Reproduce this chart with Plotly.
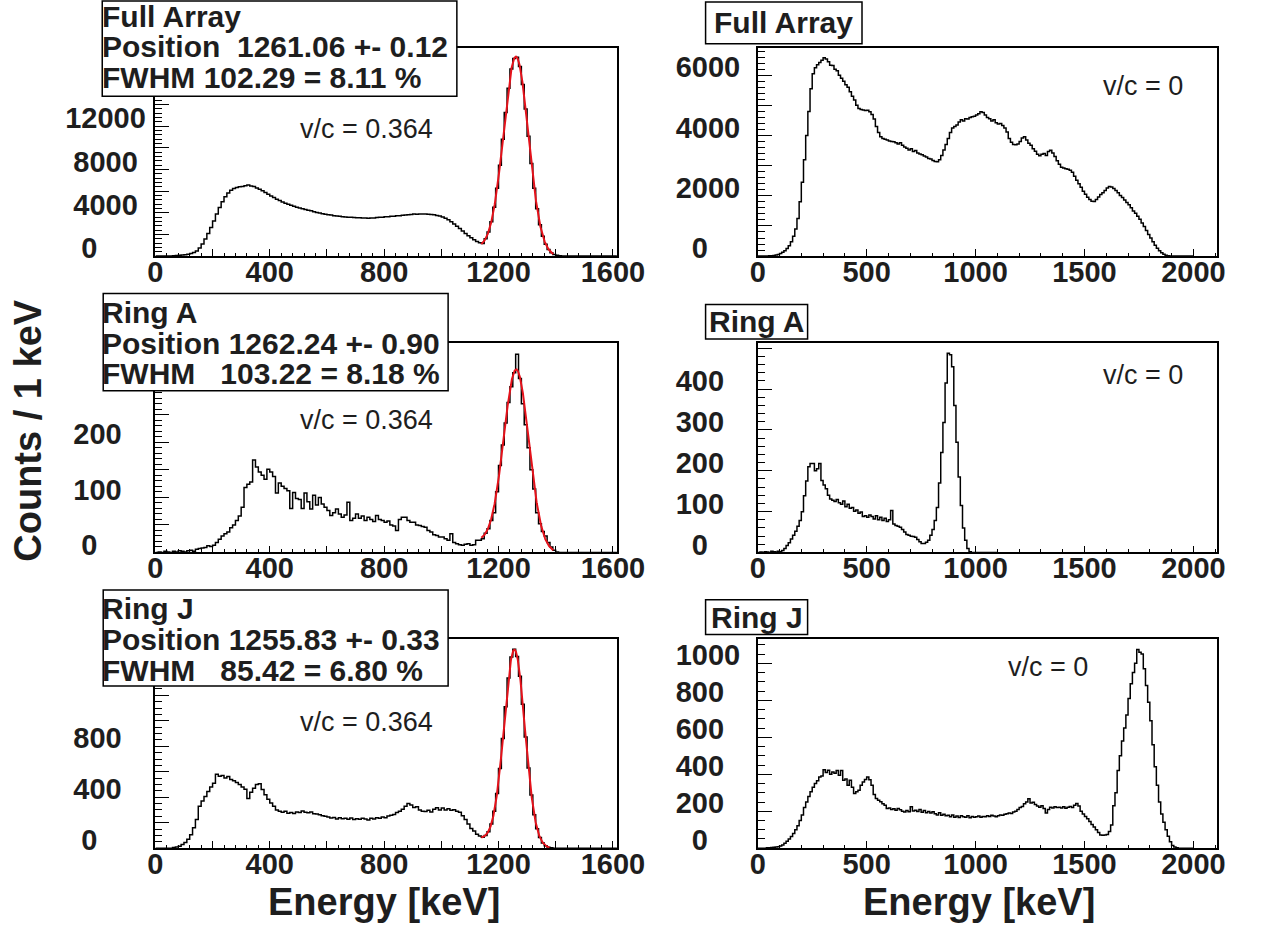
import numpy as np
import plotly.graph_objects as go

BIN_KEV = 10  # histogram bin width in keV, bins start at 0 keV

# ---------------- spectra (counts per 10 keV bin) ----------------
# Doppler corrected with v/c = 0.364
full_dc = [
    0, 0, 0, 0, 10, 20, 40, 60, 80, 100,
    130, 170, 230, 330, 480, 740, 1130, 1580, 2100, 2650,
    3250, 3880, 4480, 5020, 5480, 5830, 6080, 6250, 6340, 6410,
    6440, 6490, 6580, 6470, 6420, 6290, 6180, 6040, 5880, 5710,
    5560, 5410, 5260, 5130, 4990, 4880, 4790, 4700, 4610, 4520,
    4440, 4370, 4300, 4240, 4180, 4100, 4040, 3980, 3920, 3870,
    3830, 3790, 3740, 3700, 3680, 3640, 3620, 3600, 3580, 3560,
    3550, 3540, 3520, 3510, 3500, 3530, 3520, 3560, 3580, 3600,
    3630, 3640, 3680, 3690, 3720, 3740, 3770, 3800, 3830, 3850,
    3890, 3870, 3880, 3900, 3880, 3870, 3850, 3810, 3760, 3700,
    3610, 3500, 3350, 3170, 2970, 2760, 2540, 2320, 2100, 1890,
    1690, 1510, 1350, 1230, 1170, 1600, 2230, 3170, 4510, 6260,
    8400, 10800, 13260, 15520, 17280, 18250, 18380, 17530, 15850, 13600,
    11080, 8560, 6270, 4380, 2900, 1830, 1090, 610, 310, 150,
    70, 30, 10, 0, 0, 0, 0, 0, 0, 0,
    0, 0, 0, 0, 0, 0, 0, 0, 0, 0,
    0, 0,
]

ringA_dc = [
    0, 1, 0, 2, 1, 0, 2, 1, 3, 2,
    1, 3, 4, 2, 6, 7, 8, 9, 12, 11,
    13, 18, 24, 30, 34, 37, 45, 50, 58, 66,
    82, 118, 124, 128, 168, 155, 146, 140, 133, 151,
    146, 138, 108, 126, 120, 116, 112, 80, 109, 98,
    96, 80, 108, 92, 79, 104, 86, 100, 88, 82,
    76, 67, 72, 79, 70, 64, 68, 91, 58, 62,
    70, 62, 66, 58, 64, 60, 56, 67, 60, 58,
    55, 57, 50, 48, 40, 60, 64, 64, 58, 55,
    55, 50, 49, 47, 46, 40, 37, 32, 31, 28,
    28, 25, 22, 34, 18, 16, 14, 13, 15, 16,
    13, 14, 22, 22, 25, 35, 43, 58, 72, 110,
    158, 195, 235, 272, 301, 326, 360, 316, 270, 232,
    190, 150, 115, 72, 52, 38, 30, 18, 10, 4,
    1, 0, 0, 0, 0, 0, 0, 0, 0, 0,
    0, 0, 0, 0, 0, 0, 0, 0, 0, 0,
    0, 0,
]

ringJ_dc = [
    0, 0, 0, 0, 0, 0, 5, 10, 15, 30,
    45, 70, 105, 160, 225, 330, 370, 405, 445, 480,
    510, 580, 565, 570, 550, 562, 540, 530, 515, 500,
    480, 462, 390, 440, 470, 500, 505, 460, 420, 385,
    355, 330, 300, 290, 282, 290, 275, 280, 272, 285,
    280, 292, 282, 278, 285, 270, 268, 262, 255, 250,
    245, 238, 242, 230, 240, 232, 236, 228, 238, 226,
    232, 228, 235, 230, 222, 236, 230, 240, 235, 245,
    240, 252, 258, 265, 280, 290, 305, 330, 350, 340,
    320, 325, 300, 290, 288, 298, 285, 305, 318, 300,
    315, 300, 310, 298, 302, 290, 282, 255, 225, 190,
    155, 135, 110, 95, 86, 100, 130, 190, 290, 430,
    625, 860, 1110, 1335, 1500, 1560, 1505, 1350, 1130, 872,
    630, 418, 262, 152, 84, 42, 19, 7, 3, 0,
    0, 0, 0, 0, 0, 0, 0, 0, 0, 0,
    0, 0, 0, 0, 0, 0, 0, 0, 0, 0,
    0, 0,
]

# No Doppler correction (v/c = 0)
full_raw = [
    0, 0, 0, 0, 5, 10, 15, 20, 35, 55,
    90, 130, 180, 250, 340, 480, 660, 900, 1250, 1800,
    2450, 3200, 4000, 4800, 5550, 6050, 6250, 6350, 6420, 6500,
    6580, 6540, 6450, 6330, 6320, 6200, 6150, 6000, 5900, 5800,
    5680, 5600, 5450, 5300, 5180, 5000, 4900, 4860, 4850, 4830,
    4840, 4790, 4700, 4550, 4300, 4100, 3960, 3900, 3880, 3850,
    3820, 3800, 3790, 3760, 3720, 3760, 3680, 3620, 3580, 3520,
    3560, 3470, 3500, 3420, 3390, 3360, 3320, 3290, 3240, 3220,
    3170, 3140, 3130, 3200, 3340, 3520, 3700, 3900, 4100, 4250,
    4300, 4350, 4450, 4520, 4480, 4560, 4550, 4600, 4620, 4640,
    4680, 4720, 4790, 4760, 4680, 4600, 4560, 4480, 4520, 4420,
    4380, 4400, 4330, 4250, 4120, 3900, 3780, 3700, 3690, 3720,
    3800, 3920, 3960, 3850, 3740, 3680, 3560, 3480, 3380, 3330,
    3380, 3400, 3340, 3470, 3510, 3420, 3300, 3160, 3050, 2950,
    2920, 2900, 2880, 2850, 2780, 2650, 2520, 2400, 2280, 2150,
    2050, 1950, 1880, 1820, 1810, 1880, 1960, 2040, 2100, 2180,
    2260, 2310, 2290, 2240, 2180, 2100, 2010, 1940, 1860, 1780,
    1700, 1600, 1500, 1420, 1320, 1220, 1100, 980, 850, 720,
    600, 480, 360, 260, 180, 110, 65, 30, 10, 0,
    0, 0, 0, 0, 0, 0, 0, 0, 0, 0,
]

ringA_raw = [
    0, 1, 0, 2, 1, 0, 3, 2, 1, 3,
    2, 5, 10, 17, 24, 33, 42, 52, 64, 78,
    100, 139, 175, 210, 218, 218, 200, 205, 218, 176,
    165, 156, 140, 131, 128, 125, 130, 122, 118, 126,
    112, 118, 108, 110, 101, 104, 96, 99, 88, 90,
    86, 92, 88, 82, 90, 80, 86, 78, 84, 76,
    80, 103, 70, 66, 64, 62, 56, 50, 44, 42,
    40, 39, 37, 32, 26, 22, 22, 25, 30, 42,
    56, 78, 110, 170, 245, 318, 415, 488, 484, 455,
    360, 270, 185, 115, 60, 30, 10, 2, 0, 0,
    0, 0, 0, 0, 0, 0, 0, 0, 0, 0,
]

ringJ_raw = [
    0, 0, 0, 0, 2, 3, 4, 5, 7, 8,
    12, 18, 27, 38, 50, 63, 80, 100, 122, 150,
    180, 220, 250, 280, 305, 330, 350, 365, 385, 390,
    425, 410, 422, 400, 412, 405, 420, 395, 421, 367,
    375, 340, 367, 330, 296, 305, 314, 340, 358, 372,
    385, 370, 340, 290, 269, 260, 251, 240, 232, 215,
    218, 210, 214, 205, 215, 208, 200, 196, 204, 197,
    224, 202, 206, 198, 210, 195, 204, 192, 198, 190,
    197, 186, 180, 192, 178, 184, 176, 179, 170, 180,
    168, 174, 166, 176, 170, 168, 175, 165, 172, 168,
    170, 174, 168, 172, 170, 176, 172, 178, 174, 170,
    176, 180, 178, 184, 186, 190, 188, 196, 200, 210,
    220, 226, 240, 250, 268, 245, 248, 236, 228, 222,
    230, 215, 190, 210, 222, 218, 225, 220, 222, 218,
    224, 216, 222, 226, 220, 232, 242, 228, 200, 185,
    172, 160, 145, 128, 115, 100, 85, 72, 70, 72,
    74, 90, 125, 230, 300, 420, 500, 580, 650, 720,
    810, 890, 950, 1000, 1075, 1060, 1050, 970, 880, 790,
    690, 560, 440, 340, 250, 185, 140, 100, 65, 35,
    15, 6, 2, 0, 0, 0, 0, 0, 0, 0,
]

# ---------------- Gaussian + linear background fits ----------------
groups = ["Full Array", "Ring A", "Ring J"]
fit_pos = [1261.06, 1262.24, 1255.83]
fit_pos_err = [0.12, 0.90, 0.33]
fit_fwhm = [102.29, 103.22, 85.42]
fit_amp = [18050, 322, 1520]
fit_bg_lo = [740, 20, 75]          # background at the low end of the window
fit_window = [(1140, 1392), (1140, 1392), (1140, 1378)]
pos_gap = [2, 1, 1]                # spacing used in the printed fit boxes
fwhm_gap = [1, 3, 3]
beta = [0.364, 0]

# ---------------- tick values and labels ----------------
left_xticks = [0, 200, 400, 600, 800, 1000, 1200, 1400, 1600]
left_xtext = ["0", "", "400", "", "800", "", "1200", "", "1600"]
right_xticks = [0, 500, 1000, 1500, 2000]
right_xtext = ["0", "500", "1000", "1500", "2000"]

yt_full_dc = [0, 2000, 4000, 6000, 8000, 10000, 12000, 14000, 16000, 18000]
yl_full_dc = ["0", "", "4000", "", "8000", "", "12000", "", "", ""]
yt_full_raw = [0, 1000, 2000, 3000, 4000, 5000, 6000]
yl_full_raw = ["0", "", "2000", "", "4000", "", "6000"]
yt_ringA_dc = [0, 50, 100, 150, 200, 250, 300, 350]
yl_ringA_dc = ["0", "", "100", "", "200", "", "", ""]
yt_ringA_raw = [0, 100, 200, 300, 400, 500]
yl_ringA_raw = ["0", "100", "200", "300", "400", ""]
yt_ringJ_dc = [0, 200, 400, 600, 800, 1000, 1200, 1400, 1600]
yl_ringJ_dc = ["0", "", "400", "", "800", "", "", "", ""]
yt_ringJ_raw = [0, 200, 400, 600, 800, 1000]
yl_ringJ_raw = ["0", "200", "400", "600", "800", "1000"]

# ---------------- page geometry (pixels) ----------------
W, H = 1266, 942
FONT = "Liberation Sans"
TXT = "#1e1e1e"
FS, PS = "\u2007", "\u2008"   # figure space / punctuation space

# y labels sit roughly centred in their column, so short labels get trailing room
pad_left = {1: FS * 3, 2: FS * 2, 3: FS + PS, 4: PS, 5: ""}
pad_right = {1: FS * 2, 2: FS + PS, 3: FS, 4: ""}


def fx(px):
    return px / W


def fy(py):
    return 1 - py / H


col_px = [(151.7, 626.7), (771.7, 1244.3)]
row_px = [(48.5, 258.3), (345.5, 557.2), (644.0, 855.5)]

panels = [
    dict(r=0, c=0, h=full_dc, ymax=19220, yt=yt_full_dc, yl=yl_full_dc, ym=400, fit=0),
    dict(r=0, c=1, h=full_raw, ymax=6900, yt=yt_full_raw, yl=yl_full_raw, ym=200, fit=None),
    dict(r=1, c=0, h=ringA_dc, ymax=381, yt=yt_ringA_dc, yl=yl_ringA_dc, ym=10, fit=1),
    dict(r=1, c=1, h=ringA_raw, ymax=514, yt=yt_ringA_raw, yl=yl_ringA_raw, ym=20, fit=None),
    dict(r=2, c=0, h=ringJ_dc, ymax=1645, yt=yt_ringJ_dc, yl=yl_ringJ_dc, ym=50, fit=2),
    dict(r=2, c=1, h=ringJ_raw, ymax=1134, yt=yt_ringJ_raw, yl=yl_ringJ_raw, ym=50, fit=None),
]

fig = go.Figure()
layout = dict(
    width=W, height=H, margin=dict(l=0, r=0, t=0, b=0),
    paper_bgcolor="white", plot_bgcolor="white", showlegend=False,
    font=dict(family=FONT, color=TXT),
)

tickfont = dict(family=FONT, size=29, color=TXT, weight="bold")

for i, p in enumerate(panels, start=1):
    sfx = "" if i == 1 else str(i)
    counts = np.asarray(p["h"], dtype=float)
    edges = np.arange(len(counts) + 1) * BIN_KEV
    ystep = np.append(counts, counts[-1])
    fig.add_trace(go.Scatter(
        x=edges, y=ystep, mode="lines",
        line=dict(color="black", width=1.5, shape="hv"),
        xaxis="x" + sfx, yaxis="y" + sfx, hoverinfo="skip",
    ))
    k = p["fit"]
    if k is not None:
        lo, hi = fit_window[k]
        xf = np.linspace(lo, hi, 400)
        sig = fit_fwhm[k] / (2 * np.sqrt(2 * np.log(2)))
        yf = fit_amp[k] * np.exp(-0.5 * ((xf - fit_pos[k]) / sig) ** 2) \
            + fit_bg_lo[k] * (hi - xf) / (hi - lo)
        fig.add_trace(go.Scatter(
            x=xf, y=yf, mode="lines", line=dict(color="#e5121b", width=2),
            xaxis="x" + sfx, yaxis="y" + sfx, hoverinfo="skip",
        ))

    left = p["c"] == 0
    x0, x1 = col_px[p["c"]]
    y0, y1 = row_px[p["r"]]
    pad = pad_left if left else pad_right
    ytext = [t + pad.get(len(t), "") if t else "" for t in p["yl"]]
    layout["xaxis" + sfx] = dict(
        domain=[fx(x0), fx(x1)], range=[0, 1614 if left else 2108],
        anchor="y" + sfx, showline=True, linecolor="black", linewidth=1.5, mirror=True,
        showgrid=False, zeroline=False, ticks="inside", ticklen=7, tickwidth=1.3,
        tickcolor="black",
        tickmode="array",
        tickvals=left_xticks if left else right_xticks,
        ticktext=left_xtext if left else right_xtext,
        minor=dict(ticks="inside", ticklen=3.5, tickwidth=1.1, tickcolor="black",
                   dtick=40 if left else 100, tick0=0, showgrid=False),
        tickfont=tickfont, ticklabelstandoff=-11,
    )
    layout["yaxis" + sfx] = dict(
        domain=[fy(y1), fy(y0)], range=[0, p["ymax"]],
        anchor="x" + sfx, showline=True, linecolor="black", linewidth=1.5, mirror=True,
        showgrid=False, zeroline=False, ticks="inside", ticklen=14, tickwidth=1.3,
        tickcolor="black",
        tickmode="array", tickvals=p["yt"], ticktext=ytext,
        minor=dict(ticks="inside", ticklen=7, tickwidth=1.1, tickcolor="black",
                   dtick=p["ym"], tick0=0, showgrid=False),
        tickfont=tickfont, ticklabelshift=-8,
        ticklabelstandoff=2 if left else 10,
    )

shapes = []
annotations = []

# fit result boxes on the left column
stat_boxes = [(97, 1, 462, 97), (98, 296, 453, 394), (98, 595, 453, 692)]
stat_lines_y = [(17, 47, 78), (315, 346, 377), (614, 645, 676)]
NB = "\u00a0"
for k in range(3):
    bx0, by0, bx1, by1 = stat_boxes[k]
    shapes.append(dict(type="rect", xref="paper", yref="paper",
                       x0=fx(bx0), x1=fx(bx1), y0=fy(by1), y1=fy(by0),
                       line=dict(color="black", width=1.5), fillcolor="white",
                       layer="above"))
    res = 100 * fit_fwhm[k] / fit_pos[k]
    lines = [
        groups[k],
        "Position" + NB * pos_gap[k] + f"{fit_pos[k]:.2f} +- {fit_pos_err[k]:.2f}",
        "FWHM" + NB * fwhm_gap[k] + f"{fit_fwhm[k]:.2f} = {res:.2f} %",
    ]
    for txt, ly in zip(lines, stat_lines_y[k]):
        annotations.append(dict(
            text=txt, xref="paper", yref="paper", x=fx(95), y=fy(ly),
            xanchor="left", yanchor="middle", showarrow=False,
            font=dict(family=FONT, size=30, color=TXT, weight="bold")))

# title boxes on the right column
title_boxes = [(718, 2, 879, 44), (718, 307, 823, 342), (718, 605, 823, 640)]
for k in range(3):
    bx0, by0, bx1, by1 = title_boxes[k]
    shapes.append(dict(type="rect", xref="paper", yref="paper",
                       x0=fx(bx0), x1=fx(bx1), y0=fy(by1), y1=fy(by0),
                       line=dict(color="black", width=1.5), fillcolor="white",
                       layer="above"))
    annotations.append(dict(
        text=groups[k], xref="paper", yref="paper", x=fx((bx0 + bx1) / 2),
        y=fy((by0 + by1) / 2),
        xanchor="center", yanchor="middle", showarrow=False,
        font=dict(family=FONT, size=30, color=TXT, weight="bold")))

# v/c labels
vc_pos = [(369, 130, 0), (1168, 87, 1), (369, 424, 0), (1168, 378, 1), (369, 728, 0), (1070, 673, 1)]
for px, py, b in vc_pos:
    annotations.append(dict(
        text=f"v/c = {beta[b]:g}", xref="paper", yref="paper", x=fx(px), y=fy(py),
        xanchor="center", yanchor="middle", showarrow=False,
        font=dict(family=FONT, size=27, color=TXT)))

# axis titles
annotations.append(dict(
    text="Counts / 1 keV", xref="paper", yref="paper", x=fx(21), y=fy(434),
    xanchor="center", yanchor="middle", textangle=-90, showarrow=False,
    font=dict(family=FONT, size=38, color=TXT, weight="bold")))
for cx in (387, 999):
    annotations.append(dict(
        text="Energy [keV]", xref="paper", yref="paper", x=fx(cx), y=fy(910),
        xanchor="center", yanchor="middle", showarrow=False,
        font=dict(family=FONT, size=38, color=TXT, weight="bold")))

layout["shapes"] = shapes
layout["annotations"] = annotations
fig.update_layout(**layout)
fig.write_html("out.html")
